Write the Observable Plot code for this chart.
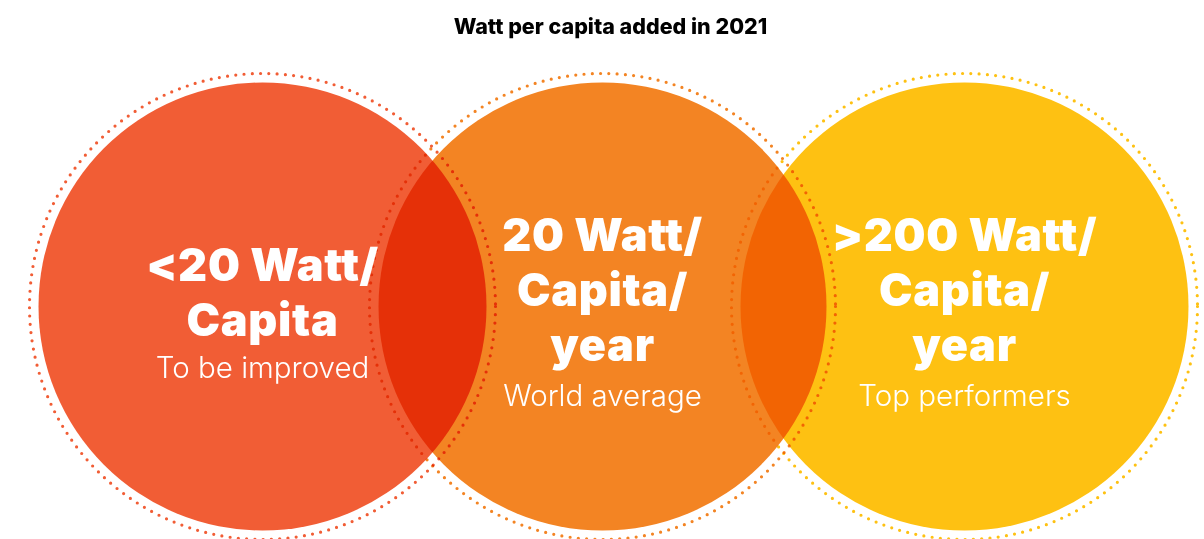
<!DOCTYPE html>
<html><head><meta charset="utf-8">
<script src="https://cdn.jsdelivr.net/npm/d3@7"></script>
<script src="https://cdn.jsdelivr.net/npm/@observablehq/plot@0.6"></script>
<style>
body{margin:0;background:#fff}
.head text{letter-spacing:0.015em}
</style>
</head><body><div id="chart"></div>
<script>
// ---- data ----
const title = "Watt per capita added in 2021";
const categories = ["low", "average", "top"];
const headlines = ["<20 Watt/\nCapita", "20 Watt/\nCapita/\nyear", ">200 Watt/\nCapita/\nyear"];
const subtitles = ["To be improved", "World average", "Top performers"];
const colors = ["#F15D35", "#F38423", "#FEC112"];

// ---- layout ----
const W = 1204, H = 539;
const centersX = [262, 602, 964];
const centerY = 306;
const R = 224, ringR = 233;

const rows = categories.map((c, i) => ({
  cat: c, cx: centersX[i], cy: centerY,
  head: headlines[i], sub: subtitles[i],
  lines: headlines[i].split("\n").length
}));

const chart = Plot.plot({
  width: W, height: H,
  margin: 0,
  x: {domain: [0, W], range: [0, W], axis: null},
  y: {domain: [0, H], range: [0, H], axis: null},
  color: {domain: categories, range: colors},
  style: {fontFamily: "Inter, sans-serif", background: "#fff"},
  marks: [
    Plot.dot(rows, {x: "cx", y: "cy", r: R, fill: "cat", mixBlendMode: "multiply"}),
    Plot.dot(rows, {x: "cx", y: "cy", r: ringR, fill: "none", stroke: "cat", strokeWidth: 3.2,
      strokeDasharray: "0 8.3", strokeLinecap: "round", mixBlendMode: "multiply"}),
    Plot.text(rows, {x: "cx", y: d => d.cy - 4 - 30 * d.lines, text: "head", fill: "white",
      fontSize: 45, fontWeight: 900, lineAnchor: "top", lineHeight: 1.22, className: "head"}),
    Plot.text(rows, {x: "cx", y: d => d.cy + 15 + 28 * d.lines, text: "sub", fill: "white",
      fontSize: 29.5, fontWeight: 300, lineAnchor: "bottom"}),
    Plot.text([title], {frameAnchor: "top", dx: 8, dy: 33, lineAnchor: "bottom", text: d => d,
      fontSize: 21.5, fontWeight: 800, fill: "#000"})
  ]
});
document.getElementById("chart").appendChild(chart);
</script>
</body></html>
